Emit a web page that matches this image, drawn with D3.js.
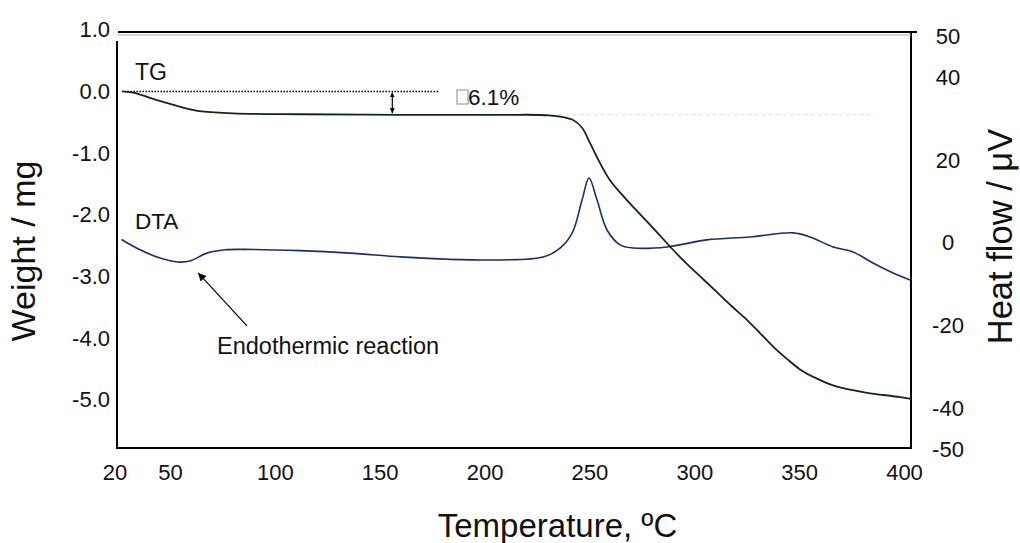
<!DOCTYPE html>
<html>
<head>
<meta charset="utf-8">
<script src="https://cdn.jsdelivr.net/npm/d3@7"></script>
<style>
  body { margin: 0; background: #fff; }
  text { font-family: "Liberation Sans", Arial, sans-serif; fill: #111; }
</style>
</head>
<body>
<div id="graphic"></div>
<script>
// TG / DTA curves

// tick labels
const tempTicks = [20, 50, 100, 150, 200, 250, 300, 350, 400];
const weightTicks = [1.0, 0.0, -1.0, -2.0, -3.0, -4.0, -5.0];
const flowTicks = [50, 40, 20, 0, -20, -40, -50];

// TG : temperature (°C) and weight (mg)
const tgTemp = [24, 30, 43, 55, 64, 80, 112, 160, 207, 231, 242, 246.5, 250.3, 255, 259.8, 267, 274.1, 281.3, 288.5, 295.6, 302.8, 310.9, 318, 325.2, 331.3, 337.6, 344.2, 350.4, 358.5, 366.2, 374.3, 382.4, 398.1, 403.3];
const tgWeight = [0.0, -0.02, -0.14, -0.25, -0.32, -0.355, -0.37, -0.38, -0.38, -0.39, -0.46, -0.59, -0.84, -1.16, -1.44, -1.73, -1.99, -2.25, -2.52, -2.77, -3.0, -3.26, -3.49, -3.71, -3.92, -4.14, -4.34, -4.51, -4.66, -4.77, -4.84, -4.89, -4.96, -4.99];

// DTA : temperature (°C) and heat flow (µV)
const dtaTemp = [23.8, 33.8, 44.6, 53.8, 59.5, 67.6, 76.2, 85.8, 112, 135.8, 159.7, 183.5, 207.4, 227.9, 236, 241.8, 246.5, 249.8, 253.6, 258.4, 264.6, 270.8, 287, 306, 326.6, 347.1, 355.2, 366.2, 375.7, 385.2, 394.8, 403];
const dtaFlow = [0.8, -1.7, -3.7, -4.65, -4.4, -2.5, -1.7, -1.6, -1.9, -2.5, -3.4, -4.0, -4.15, -3.45, -1.3, 2.4, 10.4, 15.7, 10.4, 3.1, -0.5, -1.25, -1.0, 0.7, 1.4, 2.4, 1.4, -1.0, -2.2, -4.9, -7.3, -9.0];

const massLoss = -0.37;   // plateau after dehydration
const lossLabel = "6.1%";

let largeur = 1020, hauteur = 543;
let cadre = {left: 117, right: 911, top: 32, bottom: 448};

let svg = d3.select("#graphic")
  .append("svg")
  .attr("width", largeur)
  .attr("height", hauteur);

// scales
let x = d3.scaleLinear().domain([20, 50, 400]).range([114.5, 170, 904]);
let yW = d3.scaleLinear().domain([-5.8, 1.0]).range([448.9, 29.8]);
let yH = d3.scaleLinear().domain([-50, 50]).range([449.3, 36.3]);

// frame
let fr = svg.append("g").attr("stroke", "#000").attr("stroke-width", 2);
fr.append("line").attr("x1", cadre.left).attr("x2", cadre.left).attr("y1", cadre.top + 9).attr("y2", cadre.bottom + 1);
fr.append("line").attr("x1", cadre.left).attr("x2", cadre.right + 1).attr("y1", cadre.bottom).attr("y2", cadre.bottom);
fr.append("line").attr("x1", cadre.right).attr("x2", cadre.right).attr("y1", cadre.top).attr("y2", cadre.bottom + 1);
fr.append("line").attr("x1", cadre.left + 1).attr("x2", cadre.right + 6).attr("y1", cadre.top).attr("y2", cadre.top);
svg.append("line")
  .attr("x1", cadre.left + 1).attr("x2", cadre.right)
  .attr("y1", cadre.top + 3).attr("y2", cadre.top + 3)
  .attr("stroke", "#b0b0b0").attr("stroke-width", 1);

// axes
function styleAxis(g, size) {
  g.select(".domain").remove();
  g.attr("font-size", size).attr("font-family", '"Liberation Sans", Arial, sans-serif');
  g.selectAll("text").attr("fill", "#111");
}

svg.append("g")
  .attr("transform", `translate(${cadre.left},0)`)
  .call(d3.axisLeft(yW).tickValues(weightTicks).tickFormat(d => d.toFixed(1)).tickSize(0).tickPadding(7))
  .call(g => styleAxis(g, 22));

svg.append("g")
  .attr("transform", `translate(0,${cadre.bottom})`)
  .call(d3.axisBottom(x).tickValues(tempTicks).tickFormat(d => String(d)).tickSize(0).tickPadding(16))
  .call(g => styleAxis(g, 22));

svg.append("g")
  .attr("transform", `translate(${cadre.right},0)`)
  .call(d3.axisRight(yH).tickValues(flowTicks).tickFormat(d => String(d)).tickSize(0).tickPadding(37))
  .call(g => { styleAxis(g, 22); g.selectAll("text").attr("text-anchor", "middle"); });

// axis titles
svg.append("text")
  .attr("x", 557.5).attr("y", 537)
  .attr("text-anchor", "middle").attr("font-size", 33)
  .text("Temperature, ºC");

svg.append("text")
  .attr("transform", "translate(35,251) rotate(-90)")
  .attr("text-anchor", "middle").attr("font-size", 34)
  .text("Weight / mg");

svg.append("text")
  .attr("transform", "translate(1012,236.5) rotate(-90)")
  .attr("text-anchor", "middle").attr("font-size", 34.5)
  .text("Heat flow / μV");

// faint grid remnant at the plateau
svg.append("line")
  .attr("x1", x(232)).attr("x2", x(386))
  .attr("y1", yW(-0.38)).attr("y2", yW(-0.38))
  .attr("stroke", "#dcdcdc").attr("stroke-width", 1)
  .attr("stroke-dasharray", "4,3");

// curves
let tgData = tgTemp.map((t, i) => ({t: t, v: tgWeight[i]}));
let dtaData = dtaTemp.map((t, i) => ({t: t, v: dtaFlow[i]}));

let lineTG = d3.line().x(d => x(d.t)).y(d => yW(d.v)).curve(d3.curveCatmullRom.alpha(0.5));
let lineDTA = d3.line().x(d => x(d.t)).y(d => yH(d.v)).curve(d3.curveCatmullRom.alpha(0.5));

svg.append("path").datum(dtaData)
  .attr("d", lineDTA)
  .attr("fill", "none").attr("stroke", "#1b2d6b").attr("stroke-width", 1.6);

svg.append("path").datum(tgData)
  .attr("d", lineTG)
  .attr("fill", "none").attr("stroke", "#102a12").attr("stroke-width", 1.8);

// markers
let defs = svg.append("defs");
defs.append("marker")
  .attr("id", "pointe").attr("viewBox", "0 0 10 10")
  .attr("refX", 10).attr("refY", 5)
  .attr("markerWidth", 12).attr("markerHeight", 8)
  .attr("markerUnits", "userSpaceOnUse")
  .attr("orient", "auto-start-reverse")
  .append("path").attr("d", "M0,0L10,5L0,10z").attr("fill", "#000");
defs.append("marker")
  .attr("id", "petite").attr("viewBox", "0 0 10 10")
  .attr("refX", 10).attr("refY", 5)
  .attr("markerWidth", 5).attr("markerHeight", 6)
  .attr("markerUnits", "userSpaceOnUse")
  .attr("orient", "auto-start-reverse")
  .append("path").attr("d", "M0,0L10,5L0,10z").attr("fill", "#000");

// 0.0 reference line and mass loss
svg.append("line")
  .attr("x1", x(27)).attr("x2", x(178))
  .attr("y1", yW(0)).attr("y2", yW(0))
  .attr("stroke", "#000").attr("stroke-width", 1.6)
  .attr("stroke-dasharray", "1.5,1.5");

svg.append("line")
  .attr("x1", x(156)).attr("x2", x(156))
  .attr("y1", yW(0) + 1).attr("y2", yW(massLoss) - 1)
  .attr("stroke", "#000").attr("stroke-width", 1.2)
  .attr("marker-start", "url(#petite)")
  .attr("marker-end", "url(#petite)");

svg.append("rect")
  .attr("x", 457).attr("y", 90).attr("width", 11).attr("height", 14)
  .attr("fill", "none").attr("stroke", "#8a8a8a").attr("stroke-width", 1);
svg.append("text")
  .attr("x", 468).attr("y", 105).attr("font-size", 22.5)
  .text(lossLabel);

// curve labels
svg.append("text").attr("x", 135).attr("y", 80).attr("font-size", 23).text("TG");
svg.append("text").attr("x", 135).attr("y", 229).attr("font-size", 22.5).text("DTA");

// endothermic annotation
svg.append("line")
  .attr("x1", x(86.7)).attr("y1", yH(-20.1))
  .attr("x2", x(63.4)).attr("y2", yH(-7.3))
  .attr("stroke", "#000").attr("stroke-width", 1.2)
  .attr("marker-end", "url(#pointe)");
svg.append("text")
  .attr("x", 217).attr("y", 354).attr("font-size", 23.5)
  .text("Endothermic reaction");
</script>
</body>
</html>
